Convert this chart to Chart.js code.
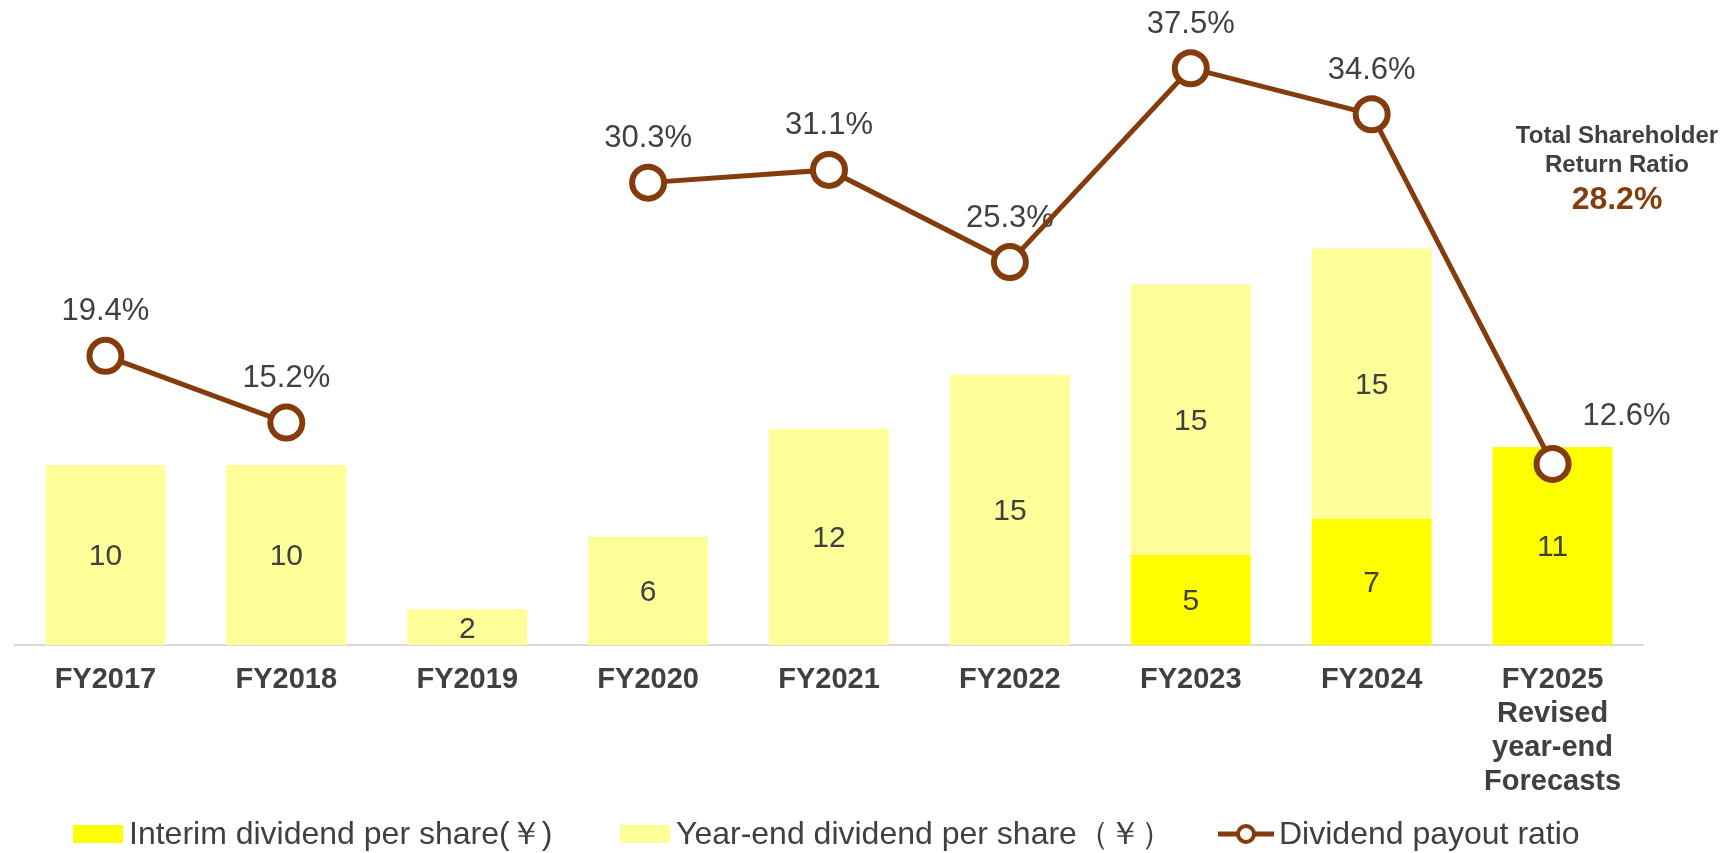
<!DOCTYPE html>
<html lang="en">
<head>
<meta charset="UTF-8">
<title>Dividends per share</title>
<script src="https://cdn.jsdelivr.net/npm/chart.js"></script>
<style>
  html, body { margin: 0; padding: 0; background: #fff; }
</style>
</head>
<body>
<canvas id="dividends" width="1729" height="853"></canvas>

<script>
// chart values
const years = ['FY2017', 'FY2018', 'FY2019', 'FY2020', 'FY2021', 'FY2022', 'FY2023', 'FY2024',
  ['FY2025', 'Revised', 'year-end', 'Forecasts']];
const interimDividend = [null, null, null, null, null, null, 5, 7, 11];
const yearEndDividend = [10, 10, 2, 6, 12, 15, 15, 15, null];
const payoutRatio = [19.4, 15.2, null, 30.3, 31.1, 25.3, 37.5, 34.6, 12.6];
const seriesNames = ['Interim dividend per share(￥)', 'Year-end dividend per share（￥）', 'Dividend payout ratio'];
const totalReturnTitle = ['Total Shareholder', 'Return Ratio'];
const totalReturnRatio = 28.2;

const FONT = '"Liberation Sans", Arial, sans-serif';
const TEXT = '#404040';
const BROWN = '#843C0C';
const INTERIM = '#FFFF00';
const YEAR_END = '#FFFF99';

// value labels: ratio labels go under the line, bar labels on top of the bars
const valueLabels = {
  id: 'valueLabels',
  beforeDatasetsDraw(chart) {
    const ctx = chart.ctx;
    const meta = chart.getDatasetMeta(2);
    ctx.save();
    ctx.font = '31px ' + FONT;
    ctx.fillStyle = TEXT;
    ctx.textAlign = 'center';
    ctx.textBaseline = 'middle';
    meta.data.forEach((pt, i) => {
      const v = payoutRatio[i];
      if (v == null) return;
      let dx = 0, dy = -44;
      if (i === payoutRatio.length - 1) { dx = 74; dy = -47; } // last one sits off to the right
      ctx.fillText(v.toFixed(1) + '%', pt.x + dx, pt.y + dy);
    });
    ctx.restore();
  },
  afterDatasetsDraw(chart) {
    const ctx = chart.ctx;
    ctx.save();
    ctx.font = '30px ' + FONT;
    ctx.fillStyle = TEXT;
    ctx.textAlign = 'center';
    ctx.textBaseline = 'middle';
    [0, 1].forEach(di => {
      const values = chart.data.datasets[di].data;
      chart.getDatasetMeta(di).data.forEach((bar, i) => {
        if (!values[i]) return;
        ctx.fillText(String(values[i]), bar.x, (bar.y + bar.base) / 2 + 2);
      });
    });
    ctx.restore();
  },
  afterDraw(chart) {
    const ctx = chart.ctx;
    ctx.save();
    ctx.textAlign = 'center';
    ctx.textBaseline = 'middle';

    // total shareholder return note
    const cx = chart.width - 112;
    ctx.fillStyle = TEXT;
    ctx.font = 'bold 24px ' + FONT;
    ctx.fillText(totalReturnTitle[0], cx, 136);
    ctx.fillText(totalReturnTitle[1], cx, 165);
    ctx.fillStyle = BROWN;
    ctx.font = 'bold 32px ' + FONT;
    ctx.fillText(totalReturnRatio.toFixed(1) + '%', cx, 200);

    // legend
    const ly = 834;
    const starts = [73, 620, 1218];
    ctx.textAlign = 'left';
    ctx.font = '32px ' + FONT;
    starts.forEach((x, i) => {
      if (i < 2) {
        ctx.fillStyle = i === 0 ? INTERIM : YEAR_END;
        ctx.fillRect(x, ly - 9, 50, 18);
      } else {
        ctx.strokeStyle = BROWN;
        ctx.lineWidth = 5;
        ctx.beginPath();
        ctx.moveTo(x, ly);
        ctx.lineTo(x + 56, ly);
        ctx.stroke();
        ctx.beginPath();
        ctx.arc(x + 28, ly, 8, 0, Math.PI * 2);
        ctx.fillStyle = '#fff';
        ctx.fill();
        ctx.lineWidth = 4;
        ctx.stroke();
      }
      ctx.fillStyle = TEXT;
      ctx.fillText(seriesNames[i], x + (i < 2 ? 56 : 61), ly + 1);
    });
    ctx.restore();
  }
};

const ctx = document.getElementById('dividends').getContext('2d');
const chart = new Chart(ctx, {
  type: 'bar',
  data: {
    labels: years,
    datasets: [
      {
        label: seriesNames[0],
        data: interimDividend,
        backgroundColor: INTERIM,
        stack: 'dps',
        order: 1,
        barPercentage: 0.663,
        categoryPercentage: 1
      },
      {
        label: seriesNames[1],
        data: yearEndDividend,
        backgroundColor: YEAR_END,
        stack: 'dps',
        order: 1,
        barPercentage: 0.663,
        categoryPercentage: 1
      },
      {
        type: 'line',
        label: seriesNames[2],
        data: payoutRatio,
        yAxisID: 'y1',
        borderColor: BROWN,
        borderWidth: 5,
        pointRadius: 16,
        pointBorderWidth: 6,
        pointBackgroundColor: '#fff',
        pointBorderColor: BROWN,
        spanGaps: false,
        tension: 0,
        order: 0
      }
    ]
  },
  options: {
    responsive: false,
    animation: false,
    devicePixelRatio: 1,
    layout: { autoPadding: false, padding: { left: 15, right: 86, top: 14, bottom: 36 } },
    scales: {
      x: {
        stacked: true,
        grid: { display: false, drawTicks: false },
        border: { display: true, color: '#D9D9D9', width: 2 },
        ticks: {
          color: TEXT,
          padding: 18,
          maxRotation: 0,
          autoSkip: false,
          font: { family: FONT, size: 29, weight: 'bold', lineHeight: 1.17 }
        }
      },
      y: { stacked: true, display: false, min: 0, max: 35 },
      y1: { display: false, position: 'right', min: 1.19, max: 40.91 }
    },
    plugins: {
      legend: { display: false },
      tooltip: { enabled: false }
    }
  },
  plugins: [valueLabels]
});
</script>
</body>
</html>
